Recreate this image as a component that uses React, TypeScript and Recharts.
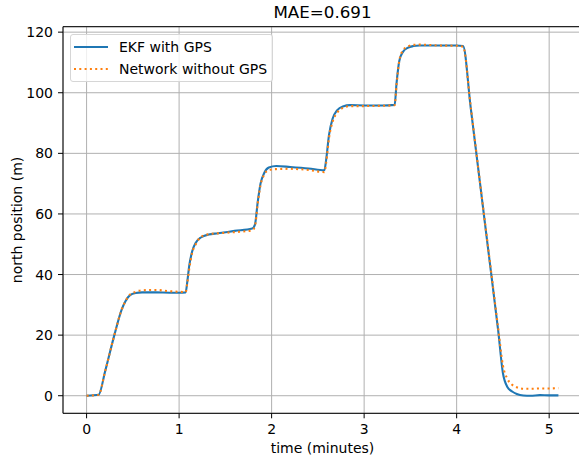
import { CartesianGrid, Label, Legend, Line, LineChart, ReferenceLine, XAxis, YAxis } from "recharts"

// time in minutes
const time = [
  0, 0.13, 0.2, 0.3, 0.38, 0.42, 0.47, 0.53, 0.6, 0.75, 0.9, 1.0, 1.07, 1.09, 1.11, 1.14, 1.18, 1.24, 1.32, 1.42,
  1.6, 1.79, 1.82, 1.85, 1.88, 1.92, 1.97, 2.05, 2.2, 2.4, 2.57, 2.59, 2.62, 2.66, 2.71, 2.77, 2.85, 3.0, 3.2, 3.33,
  3.35, 3.38, 3.42, 3.47, 3.53, 3.6, 3.8, 4.0, 4.07, 4.15, 4.25, 4.35, 4.45, 4.5, 4.55, 4.6, 4.65, 4.72, 4.8, 4.9,
  5.0, 5.1,
]

const ekfWithGps = [
  0, 0.3, 8, 20, 28.5, 31.2, 33.2, 33.9, 34.1, 34.1, 34.0, 34.0, 34.1, 38, 43, 47.5, 50.5, 52.3, 53.2, 53.6,
  54.4, 55.2, 56.5, 64, 70, 73.5, 75.3, 75.8, 75.5, 75.0, 74.4, 78, 86, 91.5, 94.3, 95.5, 95.9, 95.8, 95.8, 96,
  103, 110.5, 113.5, 114.8, 115.4, 115.6, 115.6, 115.6, 115.4, 95.6, 70.8, 46, 21.2, 7.5, 2.8, 1.4, 0.6, 0.1, 0, 0.2,
  0.1, 0.1,
]

const networkNoGps = [
  0, 0.3, 8, 20, 28.5, 31.2, 33.4, 34.3, 34.8, 34.9, 34.5, 34.3, 34.2, 37.5, 42, 47, 50, 52.5, 53.3, 53.6,
  54.0, 54.6, 56, 63.5, 69.5, 73, 74.5, 74.8, 74.9, 74.5, 73.8, 77, 85, 90.5, 93.5, 95, 95.6, 95.6, 95.7, 95.9,
  102.5, 110.5, 114, 115.2, 115.8, 115.9, 115.6, 115.5, 115.2, 96, 71, 46.5, 22, 10, 5.5, 3.6, 2.8, 2.3, 2.3, 2.4,
  2.4, 2.5,
]

const xTicks = [0, 1, 2, 3, 4, 5]
const yTicks = [0, 20, 40, 60, 80, 100, 120]

const data = time.map((t, i) => ({ t, ekf: ekfWithGps[i], net: networkNoGps[i] }))

const font = "'DejaVu Sans', sans-serif"

function LegendBox() {
  const row = { display: "flex", alignItems: "center", height: 21.7 }
  return (
    <div
      style={{
        width: 201,
        height: 45,
        border: "1px solid #d6d6d6",
        borderRadius: 3,
        background: "rgba(255,255,255,0.8)",
        fontFamily: font,
        fontSize: 14,
        color: "#000",
        boxSizing: "content-box",
        paddingTop: 1,
      }}
    >
      <div style={row}>
        <svg width={46} height={10} style={{ marginLeft: 2 }}>
          <line x1={1} x2={35} y1={5} y2={5} stroke="#1f77b4" strokeWidth={2.1} />
        </svg>
        <span>EKF with GPS</span>
      </div>
      <div style={row}>
        <svg width={46} height={10} style={{ marginLeft: 2 }}>
          <line x1={1} x2={35} y1={5} y2={5} stroke="#ff7f0e" strokeWidth={2.1} strokeDasharray="2 3.3" />
        </svg>
        <span>Network without GPS</span>
      </div>
    </div>
  )
}

export default function App() {
  return (
    <div
      style={{
        position: "absolute",
        top: 0,
        left: 0,
        width: 579,
        height: 462,
        overflow: "hidden",
        background: "#fff",
      }}
    >
      <LineChart width={600} height={462} data={data} margin={{ top: 26.7, right: 18, left: 0, bottom: 0 }}>
        <CartesianGrid stroke="#b0b0b0" strokeWidth={1} />
        <XAxis
          dataKey="t"
          type="number"
          domain={[-0.255, 5.355]}
          ticks={xTicks}
          allowDataOverflow
          height={48.7}
          tickSize={5}
          tickMargin={6}
          stroke="#000"
          tick={{ fill: "#000", fontSize: 14, fontFamily: font }}
        >
          <Label
            value="time (minutes)"
            position="insideBottom"
            offset={9}
            style={{ fill: "#000", fontSize: 14, fontFamily: font }}
          />
        </XAxis>
        <YAxis
          type="number"
          domain={[-5.8, 121.8]}
          ticks={yTicks}
          allowDataOverflow
          width={63}
          tickSize={5}
          tickMargin={5}
          stroke="#000"
          tick={{ fill: "#000", fontSize: 14, fontFamily: font }}
        >
          <Label
            value="north position (m)"
            angle={-90}
            position="insideLeft"
            offset={17}
            style={{ fill: "#000", fontSize: 14, fontFamily: font, textAnchor: "middle" }}
          />
        </YAxis>
        <ReferenceLine y={121.8} stroke="#000" strokeWidth={1}>
          <Label
            value="MAE=0.691"
            position="top"
            offset={8.4}
            style={{ fill: "#000", fontSize: 16.7, fontFamily: font }}
          />
        </ReferenceLine>
        <Line
          type="monotone"
          dataKey="ekf"
          name="EKF with GPS"
          stroke="#1f77b4"
          strokeWidth={2.1}
          dot={false}
          isAnimationActive={false}
        />
        <Line
          type="monotone"
          dataKey="net"
          name="Network without GPS"
          stroke="#ff7f0e"
          strokeWidth={2.1}
          strokeDasharray="2 3.3"
          dot={false}
          isAnimationActive={false}
        />
        <Legend
          layout="vertical"
          align="center"
          verticalAlign="middle"
          content={() => <LegendBox />}
          wrapperStyle={{ left: 70, top: 34, width: 203, height: 47 }}
        />
      </LineChart>
    </div>
  )
}
